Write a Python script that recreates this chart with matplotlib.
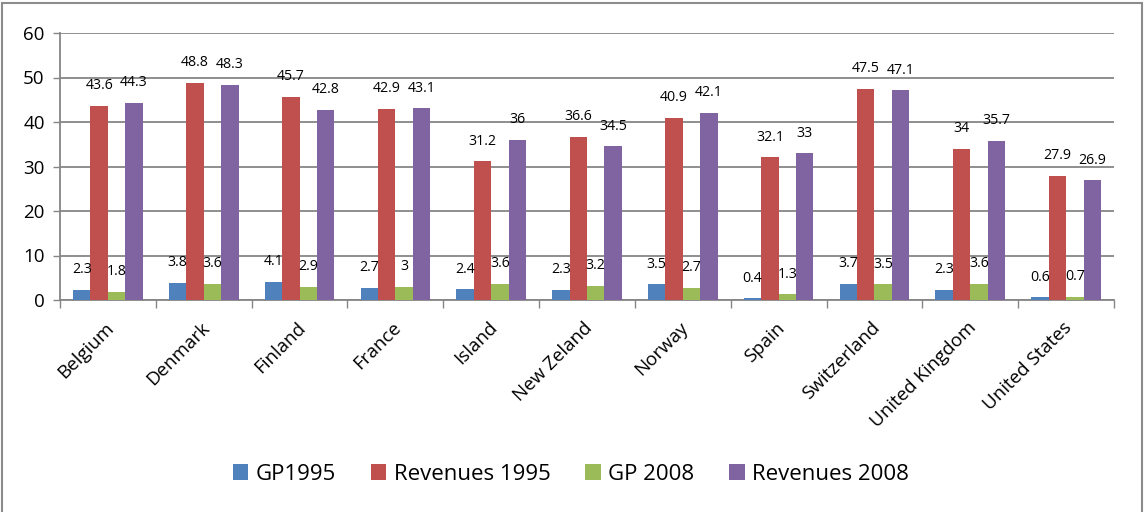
import matplotlib
matplotlib.use("Agg")
import matplotlib.pyplot as plt
import matplotlib.transforms as mtransforms
from matplotlib.patches import Rectangle
import numpy as np

plt.rcParams['font.family'] = ['Open Sans', 'DejaVu Sans']

categories = ["Belgium", "Denmark", "Finland", "France", "Island", "New Zeland",
              "Norway", "Spain", "Switzerland", "United Kingdom", "United States"]
gp1995 = [2.3, 3.8, 4.1, 2.7, 2.4, 2.3, 3.5, 0.4, 3.7, 2.3, 0.6]
rev1995 = [43.6, 48.8, 45.7, 42.9, 31.2, 36.6, 40.9, 32.1, 47.5, 34, 27.9]
gp2008 = [1.8, 3.6, 2.9, 3, 3.6, 3.2, 2.7, 1.3, 3.5, 3.6, 0.7]
rev2008 = [44.3, 48.3, 42.8, 43.1, 36, 34.5, 42.1, 33, 47.1, 35.7, 26.9]
series_names = ["GP1995", "Revenues 1995", "GP 2008", "Revenues 2008"]
series = [gp1995, rev1995, gp2008, rev2008]
colors = ["#4F81BD", "#C0504D", "#9BBB59", "#8064A2"]
yticks = [0, 10, 20, 30, 40, 50, 60]

W, H = 1144, 512
fig = plt.figure(figsize=(W / 100, H / 100), dpi=100)
ax = fig.add_axes([60 / W, 1 - 300 / H, (1114 - 60) / W, (300 - 33) / H])

x = np.arange(len(categories))
bw = 1 / 5.5
grid_col = "#868686"
for i, (vals, name, col) in enumerate(zip(series, series_names, colors)):
    pos = x + (i - 1.5) * bw
    ax.bar(pos, vals, width=bw, color=col, label=name, zorder=3)
    for xp, v in zip(pos, vals):
        ax.annotate(f"{v:g}", (xp, v), xytext=(0, 14.5), textcoords="offset points",
                    ha="center", va="center", fontsize=10.2, color="black", zorder=4)

ax.set_xlim(-0.5, len(categories) - 0.5)
ax.set_ylim(0, 60)
ax.set_yticks(yticks)
ax.tick_params(axis="y", labelsize=13.5, length=5, color=grid_col, width=1, pad=6)
ax.yaxis.grid(True, color=grid_col, linewidth=1.3, zorder=0)
for s in ["top", "right"]:
    ax.spines[s].set_visible(False)
for s in ["left", "bottom"]:
    ax.spines[s].set_color(grid_col)
    ax.spines[s].set_linewidth(1.3)

# category boundary ticks
ax.set_xticks(np.arange(len(categories) + 1) - 0.5)
ax.set_xticklabels([])
ax.tick_params(axis="x", length=6, color=grid_col, width=1)
ax.set_xticks(x, minor=True)
ax.set_xticklabels(categories, minor=True, rotation=45, ha="right", va="center",
                   rotation_mode="anchor", fontsize=13.5)
ax.tick_params(axis="x", which="minor", length=0, pad=18)
offset = mtransforms.ScaledTranslation(3 / 100, 0, fig.dpi_scale_trans)
for lab in ax.xaxis.get_minorticklabels():
    lab.set_transform(lab.get_transform() + offset)

fig.legend(loc="center", bbox_to_anchor=(0.499, 1 - 474 / H), ncol=4, frameon=False,
           fontsize=16, handlelength=0.7, handleheight=0.7, handletextpad=0.35,
           columnspacing=1.55)

fig.patches.append(Rectangle((2 / W, -0.05), (1142 - 2) / W, 1.05 - 3 / H,
                             transform=fig.transFigure, fill=False,
                             edgecolor="#8c8c8c", linewidth=1.5))

fig.savefig("out.png", dpi=100)
